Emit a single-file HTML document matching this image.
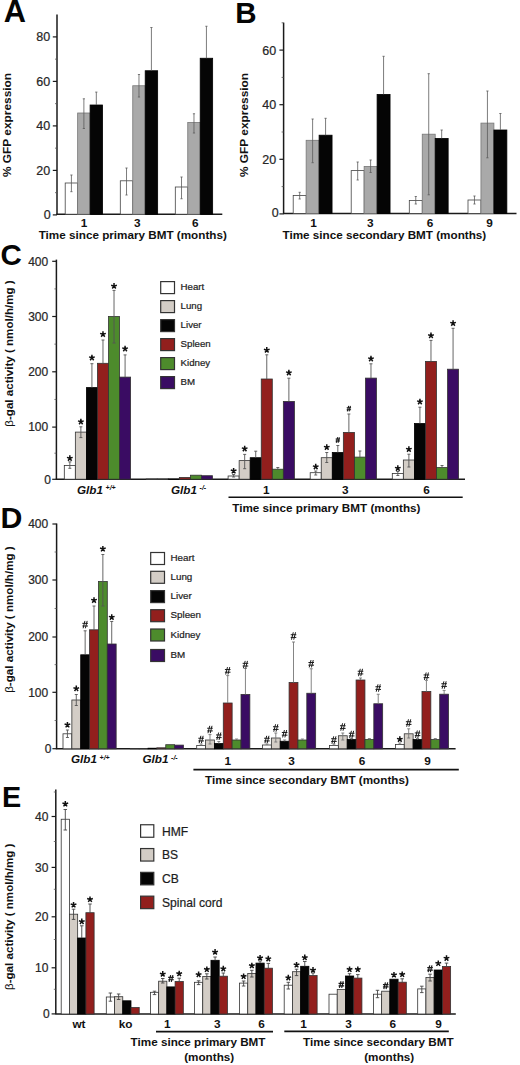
<!DOCTYPE html>
<html><head><meta charset="utf-8"><style>
html,body{margin:0;padding:0;background:#fff;overflow:hidden;}
svg{display:block;font-family:"Liberation Sans", sans-serif;}
</style></head><body>
<svg width="520" height="1065" viewBox="0 0 520 1065" font-family='"Liberation Sans", sans-serif'>
<rect width="520" height="1065" fill="#fff"/>
<text x="3.8" y="21.8" font-size="30.8" font-weight="bold" font-style="normal" text-anchor="start" fill="#050505">A</text>
<line x1="57" y1="14.5" x2="57" y2="214.9" stroke="#1a1a1a" stroke-width="1.5"/>
<line x1="52.8" y1="214.9" x2="57" y2="214.9" stroke="#1a1a1a" stroke-width="1.2"/>
<text x="50.8" y="218.6" font-size="12.5" font-weight="normal" font-style="normal" text-anchor="end" fill="#262626" stroke="#262626" stroke-width="0.22">0</text>
<line x1="52.8" y1="170.4" x2="57" y2="170.4" stroke="#1a1a1a" stroke-width="1.2"/>
<text x="50.2" y="174.9" font-size="12.5" font-weight="normal" font-style="normal" text-anchor="end" fill="#262626" stroke="#262626" stroke-width="0.22">20</text>
<line x1="52.8" y1="125.9" x2="57" y2="125.9" stroke="#1a1a1a" stroke-width="1.2"/>
<text x="50.2" y="130.4" font-size="12.5" font-weight="normal" font-style="normal" text-anchor="end" fill="#262626" stroke="#262626" stroke-width="0.22">40</text>
<line x1="52.8" y1="81.4" x2="57" y2="81.4" stroke="#1a1a1a" stroke-width="1.2"/>
<text x="50.2" y="85.9" font-size="12.5" font-weight="normal" font-style="normal" text-anchor="end" fill="#262626" stroke="#262626" stroke-width="0.22">60</text>
<line x1="52.8" y1="36.9" x2="57" y2="36.9" stroke="#1a1a1a" stroke-width="1.2"/>
<text x="50.2" y="41.4" font-size="12.5" font-weight="normal" font-style="normal" text-anchor="end" fill="#262626" stroke="#262626" stroke-width="0.22">80</text>
<line x1="55" y1="192.65" x2="57" y2="192.65" stroke="#555" stroke-width="0.8"/>
<line x1="55" y1="148.15" x2="57" y2="148.15" stroke="#555" stroke-width="0.8"/>
<line x1="55" y1="103.65" x2="57" y2="103.65" stroke="#555" stroke-width="0.8"/>
<line x1="55" y1="59.15" x2="57" y2="59.15" stroke="#555" stroke-width="0.8"/>
<line x1="56.4" y1="214.2" x2="222.3" y2="214.2" stroke="#1a1a1a" stroke-width="1.5"/>
<text x="0" y="0" font-size="11.9" font-weight="bold" text-anchor="middle" fill="#111" transform="translate(11.35 125) rotate(-90) scale(1 0.9)">% GFP expression</text>
<rect x="65.20" y="183.00" width="12.45" height="31.20" fill="#ffffff" stroke="#444" stroke-width="0.8"/>
<line x1="71.42" y1="175" x2="71.42" y2="191.7" stroke="#5a5a5a" stroke-width="0.8"/>
<line x1="70.33" y1="175" x2="72.52" y2="175" stroke="#5a5a5a" stroke-width="0.8"/>
<line x1="70.33" y1="191.7" x2="72.52" y2="191.7" stroke="#5a5a5a" stroke-width="0.8"/>
<rect x="77.65" y="113.00" width="12.45" height="101.20" fill="#a9a9a9" stroke="#777" stroke-width="0.8"/>
<line x1="83.88" y1="98.8" x2="83.88" y2="128.5" stroke="#5a5a5a" stroke-width="0.8"/>
<line x1="82.78" y1="98.8" x2="84.97" y2="98.8" stroke="#5a5a5a" stroke-width="0.8"/>
<line x1="82.78" y1="128.5" x2="84.97" y2="128.5" stroke="#5a5a5a" stroke-width="0.8"/>
<rect x="90.10" y="105.00" width="12.45" height="109.20" fill="#050505" stroke="#000" stroke-width="0.8"/>
<line x1="96.32" y1="92.1" x2="96.32" y2="105" stroke="#5a5a5a" stroke-width="0.8"/>
<line x1="95.22" y1="92.1" x2="97.42" y2="92.1" stroke="#5a5a5a" stroke-width="0.8"/>
<rect x="120.30" y="180.80" width="12.45" height="33.40" fill="#ffffff" stroke="#444" stroke-width="0.8"/>
<line x1="126.52" y1="168" x2="126.52" y2="195" stroke="#5a5a5a" stroke-width="0.8"/>
<line x1="125.42" y1="168" x2="127.62" y2="168" stroke="#5a5a5a" stroke-width="0.8"/>
<line x1="125.42" y1="195" x2="127.62" y2="195" stroke="#5a5a5a" stroke-width="0.8"/>
<rect x="132.75" y="85.75" width="12.45" height="128.45" fill="#a9a9a9" stroke="#777" stroke-width="0.8"/>
<line x1="138.97" y1="74.5" x2="138.97" y2="97" stroke="#5a5a5a" stroke-width="0.8"/>
<line x1="137.88" y1="74.5" x2="140.07" y2="74.5" stroke="#5a5a5a" stroke-width="0.8"/>
<line x1="137.88" y1="97" x2="140.07" y2="97" stroke="#5a5a5a" stroke-width="0.8"/>
<rect x="145.20" y="70.75" width="12.45" height="143.45" fill="#050505" stroke="#000" stroke-width="0.8"/>
<line x1="151.42" y1="27.5" x2="151.42" y2="70.75" stroke="#5a5a5a" stroke-width="0.8"/>
<line x1="150.32" y1="27.5" x2="152.52" y2="27.5" stroke="#5a5a5a" stroke-width="0.8"/>
<rect x="175.30" y="187.00" width="12.45" height="27.20" fill="#ffffff" stroke="#444" stroke-width="0.8"/>
<line x1="181.53" y1="177" x2="181.53" y2="198.75" stroke="#5a5a5a" stroke-width="0.8"/>
<line x1="180.43" y1="177" x2="182.62" y2="177" stroke="#5a5a5a" stroke-width="0.8"/>
<line x1="180.43" y1="198.75" x2="182.62" y2="198.75" stroke="#5a5a5a" stroke-width="0.8"/>
<rect x="187.75" y="122.50" width="12.45" height="91.70" fill="#a9a9a9" stroke="#777" stroke-width="0.8"/>
<line x1="193.97" y1="113.75" x2="193.97" y2="133" stroke="#5a5a5a" stroke-width="0.8"/>
<line x1="192.88" y1="113.75" x2="195.07" y2="113.75" stroke="#5a5a5a" stroke-width="0.8"/>
<line x1="192.88" y1="133" x2="195.07" y2="133" stroke="#5a5a5a" stroke-width="0.8"/>
<rect x="200.20" y="58.25" width="12.45" height="155.95" fill="#050505" stroke="#000" stroke-width="0.8"/>
<line x1="206.43" y1="26.25" x2="206.43" y2="58.25" stroke="#5a5a5a" stroke-width="0.8"/>
<line x1="205.33" y1="26.25" x2="207.53" y2="26.25" stroke="#5a5a5a" stroke-width="0.8"/>
<text x="84" y="227.1" font-size="11.8" font-weight="bold" font-style="normal" text-anchor="middle" fill="#111">1</text>
<text x="137.3" y="227.1" font-size="11.8" font-weight="bold" font-style="normal" text-anchor="middle" fill="#111">3</text>
<text x="195.3" y="227.1" font-size="11.8" font-weight="bold" font-style="normal" text-anchor="middle" fill="#111">6</text>
<text x="38.7" y="238.7" font-size="11.7" font-weight="bold" font-style="normal" text-anchor="start" fill="#111">Time since primary BMT (months)</text>
<text x="235.2" y="22.6" font-size="29.5" font-weight="bold" font-style="normal" text-anchor="start" fill="#050505">B</text>
<line x1="283.6" y1="22.6" x2="283.6" y2="213.9" stroke="#1a1a1a" stroke-width="1.5"/>
<line x1="279.4" y1="213.9" x2="283.6" y2="213.9" stroke="#1a1a1a" stroke-width="1.2"/>
<text x="278.8" y="217.1" font-size="12.5" font-weight="normal" font-style="normal" text-anchor="end" fill="#262626" stroke="#262626" stroke-width="0.22">0</text>
<line x1="279.4" y1="159.3" x2="283.6" y2="159.3" stroke="#1a1a1a" stroke-width="1.2"/>
<text x="276.2" y="163.8" font-size="12.5" font-weight="normal" font-style="normal" text-anchor="end" fill="#262626" stroke="#262626" stroke-width="0.22">20</text>
<line x1="279.4" y1="104.7" x2="283.6" y2="104.7" stroke="#1a1a1a" stroke-width="1.2"/>
<text x="276.2" y="109.2" font-size="12.5" font-weight="normal" font-style="normal" text-anchor="end" fill="#262626" stroke="#262626" stroke-width="0.22">40</text>
<line x1="279.4" y1="50.1" x2="283.6" y2="50.1" stroke="#1a1a1a" stroke-width="1.2"/>
<text x="276.2" y="54.6" font-size="12.5" font-weight="normal" font-style="normal" text-anchor="end" fill="#262626" stroke="#262626" stroke-width="0.22">60</text>
<line x1="281.6" y1="186.6" x2="283.6" y2="186.6" stroke="#555" stroke-width="0.8"/>
<line x1="281.6" y1="132" x2="283.6" y2="132" stroke="#555" stroke-width="0.8"/>
<line x1="281.6" y1="77.4" x2="283.6" y2="77.4" stroke="#555" stroke-width="0.8"/>
<line x1="281.6" y1="22.8" x2="283.6" y2="22.8" stroke="#555" stroke-width="0.8"/>
<line x1="283" y1="213.4" x2="516.5" y2="213.4" stroke="#1a1a1a" stroke-width="1.5"/>
<text x="0" y="0" font-size="11.9" font-weight="bold" text-anchor="middle" fill="#111" transform="translate(248.3 125) rotate(-90) scale(1 0.9)">% GFP expression</text>
<rect x="293.20" y="195.50" width="12.95" height="17.90" fill="#ffffff" stroke="#444" stroke-width="0.8"/>
<line x1="299.68" y1="192.3" x2="299.68" y2="199" stroke="#5a5a5a" stroke-width="0.8"/>
<line x1="298.57" y1="192.3" x2="300.78" y2="192.3" stroke="#5a5a5a" stroke-width="0.8"/>
<line x1="298.57" y1="199" x2="300.78" y2="199" stroke="#5a5a5a" stroke-width="0.8"/>
<rect x="306.15" y="140.30" width="12.95" height="73.10" fill="#a9a9a9" stroke="#777" stroke-width="0.8"/>
<line x1="312.62" y1="119" x2="312.62" y2="162.7" stroke="#5a5a5a" stroke-width="0.8"/>
<line x1="311.52" y1="119" x2="313.73" y2="119" stroke="#5a5a5a" stroke-width="0.8"/>
<line x1="311.52" y1="162.7" x2="313.73" y2="162.7" stroke="#5a5a5a" stroke-width="0.8"/>
<rect x="319.10" y="135.20" width="12.95" height="78.20" fill="#050505" stroke="#000" stroke-width="0.8"/>
<line x1="325.57" y1="118.3" x2="325.57" y2="135.2" stroke="#5a5a5a" stroke-width="0.8"/>
<line x1="324.47" y1="118.3" x2="326.68" y2="118.3" stroke="#5a5a5a" stroke-width="0.8"/>
<rect x="351.20" y="170.60" width="12.95" height="42.80" fill="#ffffff" stroke="#444" stroke-width="0.8"/>
<line x1="357.68" y1="162" x2="357.68" y2="180" stroke="#5a5a5a" stroke-width="0.8"/>
<line x1="356.57" y1="162" x2="358.78" y2="162" stroke="#5a5a5a" stroke-width="0.8"/>
<line x1="356.57" y1="180" x2="358.78" y2="180" stroke="#5a5a5a" stroke-width="0.8"/>
<rect x="364.15" y="166.40" width="12.95" height="47.00" fill="#a9a9a9" stroke="#777" stroke-width="0.8"/>
<line x1="370.62" y1="160" x2="370.62" y2="172.5" stroke="#5a5a5a" stroke-width="0.8"/>
<line x1="369.52" y1="160" x2="371.73" y2="160" stroke="#5a5a5a" stroke-width="0.8"/>
<line x1="369.52" y1="172.5" x2="371.73" y2="172.5" stroke="#5a5a5a" stroke-width="0.8"/>
<rect x="377.10" y="94.40" width="12.95" height="119.00" fill="#050505" stroke="#000" stroke-width="0.8"/>
<line x1="383.57" y1="56.3" x2="383.57" y2="94.4" stroke="#5a5a5a" stroke-width="0.8"/>
<line x1="382.47" y1="56.3" x2="384.68" y2="56.3" stroke="#5a5a5a" stroke-width="0.8"/>
<rect x="409.30" y="200.40" width="12.95" height="13.00" fill="#ffffff" stroke="#444" stroke-width="0.8"/>
<line x1="415.78" y1="196.5" x2="415.78" y2="204" stroke="#5a5a5a" stroke-width="0.8"/>
<line x1="414.68" y1="196.5" x2="416.88" y2="196.5" stroke="#5a5a5a" stroke-width="0.8"/>
<line x1="414.68" y1="204" x2="416.88" y2="204" stroke="#5a5a5a" stroke-width="0.8"/>
<rect x="422.25" y="134.20" width="12.95" height="79.20" fill="#a9a9a9" stroke="#777" stroke-width="0.8"/>
<line x1="428.73" y1="73.7" x2="428.73" y2="194.8" stroke="#5a5a5a" stroke-width="0.8"/>
<line x1="427.62" y1="73.7" x2="429.83" y2="73.7" stroke="#5a5a5a" stroke-width="0.8"/>
<line x1="427.62" y1="194.8" x2="429.83" y2="194.8" stroke="#5a5a5a" stroke-width="0.8"/>
<rect x="435.20" y="138.40" width="12.95" height="75.00" fill="#050505" stroke="#000" stroke-width="0.8"/>
<line x1="441.68" y1="130" x2="441.68" y2="138.4" stroke="#5a5a5a" stroke-width="0.8"/>
<line x1="440.57" y1="130" x2="442.78" y2="130" stroke="#5a5a5a" stroke-width="0.8"/>
<rect x="468.00" y="200.00" width="12.95" height="13.40" fill="#ffffff" stroke="#444" stroke-width="0.8"/>
<line x1="474.48" y1="196" x2="474.48" y2="204" stroke="#5a5a5a" stroke-width="0.8"/>
<line x1="473.38" y1="196" x2="475.58" y2="196" stroke="#5a5a5a" stroke-width="0.8"/>
<line x1="473.38" y1="204" x2="475.58" y2="204" stroke="#5a5a5a" stroke-width="0.8"/>
<rect x="480.95" y="123.10" width="12.95" height="90.30" fill="#a9a9a9" stroke="#777" stroke-width="0.8"/>
<line x1="487.43" y1="91" x2="487.43" y2="157.8" stroke="#5a5a5a" stroke-width="0.8"/>
<line x1="486.32" y1="91" x2="488.53" y2="91" stroke="#5a5a5a" stroke-width="0.8"/>
<line x1="486.32" y1="157.8" x2="488.53" y2="157.8" stroke="#5a5a5a" stroke-width="0.8"/>
<rect x="493.90" y="130.00" width="12.95" height="83.40" fill="#050505" stroke="#000" stroke-width="0.8"/>
<line x1="500.38" y1="113.5" x2="500.38" y2="130" stroke="#5a5a5a" stroke-width="0.8"/>
<line x1="499.27" y1="113.5" x2="501.48" y2="113.5" stroke="#5a5a5a" stroke-width="0.8"/>
<text x="313.5" y="227.1" font-size="11.8" font-weight="bold" font-style="normal" text-anchor="middle" fill="#111">1</text>
<text x="370.2" y="227.1" font-size="11.8" font-weight="bold" font-style="normal" text-anchor="middle" fill="#111">3</text>
<text x="430" y="227.1" font-size="11.8" font-weight="bold" font-style="normal" text-anchor="middle" fill="#111">6</text>
<text x="489.5" y="227.1" font-size="11.8" font-weight="bold" font-style="normal" text-anchor="middle" fill="#111">9</text>
<text x="282.5" y="238.7" font-size="11.7" font-weight="bold" font-style="normal" text-anchor="start" fill="#111">Time since secondary BMT (months)</text>
<text x="0.6" y="265" font-size="29.5" font-weight="bold" font-style="normal" text-anchor="start" fill="#050505">C</text>
<line x1="56.4" y1="259.6" x2="56.4" y2="479.3" stroke="#1a1a1a" stroke-width="1.5"/>
<line x1="52.2" y1="479.3" x2="56.4" y2="479.3" stroke="#1a1a1a" stroke-width="1.2"/>
<text x="50.9" y="483.62" font-size="12" font-weight="normal" font-style="normal" text-anchor="end" fill="#262626" stroke="#262626" stroke-width="0.22">0</text>
<line x1="52.2" y1="427.1" x2="56.4" y2="427.1" stroke="#1a1a1a" stroke-width="1.2"/>
<text x="48.2" y="431.42" font-size="12" font-weight="normal" font-style="normal" text-anchor="end" fill="#262626" stroke="#262626" stroke-width="0.22">100</text>
<line x1="52.2" y1="371.8" x2="56.4" y2="371.8" stroke="#1a1a1a" stroke-width="1.2"/>
<text x="48.2" y="376.12" font-size="12" font-weight="normal" font-style="normal" text-anchor="end" fill="#262626" stroke="#262626" stroke-width="0.22">200</text>
<line x1="52.2" y1="316.5" x2="56.4" y2="316.5" stroke="#1a1a1a" stroke-width="1.2"/>
<text x="48.2" y="320.82" font-size="12" font-weight="normal" font-style="normal" text-anchor="end" fill="#262626" stroke="#262626" stroke-width="0.22">300</text>
<line x1="52.2" y1="261.3" x2="56.4" y2="261.3" stroke="#1a1a1a" stroke-width="1.2"/>
<text x="48.2" y="265.62" font-size="12" font-weight="normal" font-style="normal" text-anchor="end" fill="#262626" stroke="#262626" stroke-width="0.22">400</text>
<line x1="54.4" y1="453.2" x2="56.4" y2="453.2" stroke="#555" stroke-width="0.8"/>
<line x1="54.4" y1="399.45" x2="56.4" y2="399.45" stroke="#555" stroke-width="0.8"/>
<line x1="54.4" y1="344.15" x2="56.4" y2="344.15" stroke="#555" stroke-width="0.8"/>
<line x1="54.4" y1="288.9" x2="56.4" y2="288.9" stroke="#555" stroke-width="0.8"/>
<line x1="55.8" y1="479.2" x2="465" y2="479.2" stroke="#1a1a1a" stroke-width="1.5"/>
<text x="13.1" y="353.5" font-size="11.6" text-anchor="middle" fill="#111" transform="rotate(-90 13.1 353.5)"><tspan font-weight="normal">&#946;</tspan><tspan font-weight="bold">-gal activity ( nmol/h/mg )</tspan></text>
<rect x="160.70" y="281.60" width="13.80" height="12.00" fill="#ffffff" stroke="#333" stroke-width="1.2"/>
<text x="180.6" y="290.2" font-size="9.7" font-weight="normal" font-style="normal" text-anchor="start" fill="#1a1a1a" stroke="#262626" stroke-width="0.22">Heart</text>
<rect x="160.70" y="300.60" width="13.80" height="12.00" fill="#d3cdc6" stroke="#333" stroke-width="1.2"/>
<text x="180.6" y="309.2" font-size="9.7" font-weight="normal" font-style="normal" text-anchor="start" fill="#1a1a1a" stroke="#262626" stroke-width="0.22">Lung</text>
<rect x="160.70" y="319.60" width="13.80" height="12.00" fill="#050505" stroke="#333" stroke-width="1.2"/>
<text x="180.6" y="328.2" font-size="9.7" font-weight="normal" font-style="normal" text-anchor="start" fill="#1a1a1a" stroke="#262626" stroke-width="0.22">Liver</text>
<rect x="160.70" y="338.60" width="13.80" height="12.00" fill="#921f1d" stroke="#333" stroke-width="1.2"/>
<text x="180.6" y="347.2" font-size="9.7" font-weight="normal" font-style="normal" text-anchor="start" fill="#1a1a1a" stroke="#262626" stroke-width="0.22">Spleen</text>
<rect x="160.70" y="357.60" width="13.80" height="12.00" fill="#4d8b2c" stroke="#333" stroke-width="1.2"/>
<text x="180.6" y="366.2" font-size="9.7" font-weight="normal" font-style="normal" text-anchor="start" fill="#1a1a1a" stroke="#262626" stroke-width="0.22">Kidney</text>
<rect x="160.70" y="376.60" width="13.80" height="12.00" fill="#3a0c63" stroke="#333" stroke-width="1.2"/>
<text x="180.6" y="385.2" font-size="9.7" font-weight="normal" font-style="normal" text-anchor="start" fill="#1a1a1a" stroke="#262626" stroke-width="0.22">BM</text>
<rect x="64.30" y="465.40" width="11.05" height="13.80" fill="#ffffff" stroke="#333" stroke-width="0.8"/>
<line x1="69.83" y1="461.9" x2="69.83" y2="468.3" stroke="#555" stroke-width="0.9"/>
<line x1="68.33" y1="461.9" x2="71.33" y2="461.9" stroke="#555" stroke-width="0.9"/>
<line x1="68.33" y1="468.3" x2="71.33" y2="468.3" stroke="#555" stroke-width="0.9"/>
<path d="M69.83 458.3L69.83 455.3M69.83 458.3L72.68 457.37M69.83 458.3L71.59 460.73M69.83 458.3L68.06 460.73M69.83 458.3L66.97 457.37" stroke="#111" stroke-width="1.5" fill="none"/>
<rect x="75.35" y="432.10" width="11.05" height="47.10" fill="#d3cdc6" stroke="#333" stroke-width="0.8"/>
<line x1="80.88" y1="426.8" x2="80.88" y2="437.6" stroke="#555" stroke-width="0.9"/>
<line x1="79.38" y1="426.8" x2="82.38" y2="426.8" stroke="#555" stroke-width="0.9"/>
<line x1="79.38" y1="437.6" x2="82.38" y2="437.6" stroke="#555" stroke-width="0.9"/>
<path d="M80.88 421.8L80.88 418.8M80.88 421.8L83.73 420.87M80.88 421.8L82.64 424.23M80.88 421.8L79.11 424.23M80.88 421.8L78.02 420.87" stroke="#111" stroke-width="1.5" fill="none"/>
<rect x="86.40" y="387.60" width="11.05" height="91.60" fill="#050505" stroke="#000" stroke-width="0.8"/>
<line x1="91.93" y1="363.7" x2="91.93" y2="387.6" stroke="#555" stroke-width="0.9"/>
<line x1="90.43" y1="363.7" x2="93.43" y2="363.7" stroke="#555" stroke-width="0.9"/>
<path d="M91.93 357.8L91.93 354.8M91.93 357.8L94.78 356.87M91.93 357.8L93.69 360.23M91.93 357.8L90.16 360.23M91.93 357.8L89.07 356.87" stroke="#111" stroke-width="1.5" fill="none"/>
<rect x="97.45" y="363.30" width="11.05" height="115.90" fill="#921f1d" stroke="#333" stroke-width="0.8"/>
<line x1="102.98" y1="340" x2="102.98" y2="363.3" stroke="#555" stroke-width="0.9"/>
<line x1="101.48" y1="340" x2="104.48" y2="340" stroke="#555" stroke-width="0.9"/>
<path d="M102.98 334.3L102.98 331.3M102.98 334.3L105.83 333.37M102.98 334.3L104.74 336.73M102.98 334.3L101.21 336.73M102.98 334.3L100.12 333.37" stroke="#111" stroke-width="1.5" fill="none"/>
<rect x="108.50" y="316.50" width="11.05" height="162.70" fill="#4d8b2c" stroke="#333" stroke-width="0.8"/>
<line x1="114.03" y1="290.4" x2="114.03" y2="343" stroke="#555" stroke-width="0.9"/>
<line x1="112.53" y1="290.4" x2="115.53" y2="290.4" stroke="#555" stroke-width="0.9"/>
<line x1="112.53" y1="343" x2="115.53" y2="343" stroke="#555" stroke-width="0.9"/>
<path d="M114.03 286.1L114.03 283.1M114.03 286.1L116.88 285.17M114.03 286.1L115.79 288.53M114.03 286.1L112.26 288.53M114.03 286.1L111.17 285.17" stroke="#111" stroke-width="1.5" fill="none"/>
<rect x="119.55" y="377.10" width="11.05" height="102.10" fill="#3a0c63" stroke="#333" stroke-width="0.8"/>
<line x1="125.08" y1="354.9" x2="125.08" y2="377.1" stroke="#555" stroke-width="0.9"/>
<line x1="123.58" y1="354.9" x2="126.58" y2="354.9" stroke="#555" stroke-width="0.9"/>
<path d="M125.08 348.8L125.08 345.8M125.08 348.8L127.93 347.87M125.08 348.8L126.84 351.23M125.08 348.8L123.31 351.23M125.08 348.8L122.22 347.87" stroke="#111" stroke-width="1.5" fill="none"/>
<rect x="146.20" y="479.00" width="11.05" height="0.20" fill="#ffffff" stroke="#333" stroke-width="0.8"/>
<rect x="157.25" y="479.00" width="11.05" height="0.20" fill="#d3cdc6" stroke="#333" stroke-width="0.8"/>
<rect x="168.30" y="479.00" width="11.05" height="0.20" fill="#050505" stroke="#000" stroke-width="0.8"/>
<rect x="179.35" y="477.40" width="11.05" height="1.80" fill="#921f1d" stroke="#333" stroke-width="0.8"/>
<rect x="190.40" y="475.20" width="11.05" height="4.00" fill="#4d8b2c" stroke="#333" stroke-width="0.8"/>
<rect x="201.45" y="475.70" width="11.05" height="3.50" fill="#3a0c63" stroke="#333" stroke-width="0.8"/>
<rect x="228.10" y="476.00" width="11.05" height="3.20" fill="#ffffff" stroke="#333" stroke-width="0.8"/>
<line x1="233.62" y1="474.5" x2="233.62" y2="477" stroke="#555" stroke-width="0.9"/>
<line x1="232.12" y1="474.5" x2="235.12" y2="474.5" stroke="#555" stroke-width="0.9"/>
<line x1="232.12" y1="477" x2="235.12" y2="477" stroke="#555" stroke-width="0.9"/>
<path d="M233.62 470.9L233.62 467.9M233.62 470.9L236.48 469.97M233.62 470.9L235.39 473.33M233.62 470.9L231.86 473.33M233.62 470.9L230.77 469.97" stroke="#111" stroke-width="1.5" fill="none"/>
<rect x="239.15" y="460.60" width="11.05" height="18.60" fill="#d3cdc6" stroke="#333" stroke-width="0.8"/>
<line x1="244.68" y1="454.4" x2="244.68" y2="468.7" stroke="#555" stroke-width="0.9"/>
<line x1="243.18" y1="454.4" x2="246.18" y2="454.4" stroke="#555" stroke-width="0.9"/>
<line x1="243.18" y1="468.7" x2="246.18" y2="468.7" stroke="#555" stroke-width="0.9"/>
<path d="M244.68 448.8L244.68 445.8M244.68 448.8L247.53 447.87M244.68 448.8L246.44 451.23M244.68 448.8L242.91 451.23M244.68 448.8L241.82 447.87" stroke="#111" stroke-width="1.5" fill="none"/>
<rect x="250.20" y="457.70" width="11.05" height="21.50" fill="#050505" stroke="#000" stroke-width="0.8"/>
<line x1="255.72" y1="451.2" x2="255.72" y2="457.7" stroke="#555" stroke-width="0.9"/>
<line x1="254.22" y1="451.2" x2="257.23" y2="451.2" stroke="#555" stroke-width="0.9"/>
<rect x="261.25" y="379.00" width="11.05" height="100.20" fill="#921f1d" stroke="#333" stroke-width="0.8"/>
<line x1="266.77" y1="354.8" x2="266.77" y2="379" stroke="#555" stroke-width="0.9"/>
<line x1="265.27" y1="354.8" x2="268.27" y2="354.8" stroke="#555" stroke-width="0.9"/>
<path d="M266.77 350.1L266.77 347.1M266.77 350.1L269.63 349.17M266.77 350.1L268.54 352.53M266.77 350.1L265.01 352.53M266.77 350.1L263.92 349.17" stroke="#111" stroke-width="1.5" fill="none"/>
<rect x="272.30" y="469.20" width="11.05" height="10.00" fill="#4d8b2c" stroke="#333" stroke-width="0.8"/>
<line x1="277.82" y1="467.5" x2="277.82" y2="469.2" stroke="#555" stroke-width="0.9"/>
<line x1="276.32" y1="467.5" x2="279.32" y2="467.5" stroke="#555" stroke-width="0.9"/>
<rect x="283.35" y="401.40" width="11.05" height="77.80" fill="#3a0c63" stroke="#333" stroke-width="0.8"/>
<line x1="288.88" y1="378.2" x2="288.88" y2="401.4" stroke="#555" stroke-width="0.9"/>
<line x1="287.38" y1="378.2" x2="290.38" y2="378.2" stroke="#555" stroke-width="0.9"/>
<path d="M288.88 372.8L288.88 369.8M288.88 372.8L291.73 371.87M288.88 372.8L290.64 375.23M288.88 372.8L287.11 375.23M288.88 372.8L286.02 371.87" stroke="#111" stroke-width="1.5" fill="none"/>
<rect x="310.20" y="472.70" width="11.05" height="6.50" fill="#ffffff" stroke="#333" stroke-width="0.8"/>
<line x1="315.72" y1="471" x2="315.72" y2="475" stroke="#555" stroke-width="0.9"/>
<line x1="314.22" y1="471" x2="317.22" y2="471" stroke="#555" stroke-width="0.9"/>
<line x1="314.22" y1="475" x2="317.22" y2="475" stroke="#555" stroke-width="0.9"/>
<path d="M315.72 466.8L315.72 463.8M315.72 466.8L318.58 465.87M315.72 466.8L317.49 469.23M315.72 466.8L313.96 469.23M315.72 466.8L312.87 465.87" stroke="#111" stroke-width="1.5" fill="none"/>
<rect x="321.25" y="457.70" width="11.05" height="21.50" fill="#d3cdc6" stroke="#333" stroke-width="0.8"/>
<line x1="326.77" y1="452.5" x2="326.77" y2="462.5" stroke="#555" stroke-width="0.9"/>
<line x1="325.27" y1="452.5" x2="328.27" y2="452.5" stroke="#555" stroke-width="0.9"/>
<line x1="325.27" y1="462.5" x2="328.27" y2="462.5" stroke="#555" stroke-width="0.9"/>
<path d="M326.77 447.3L326.77 444.3M326.77 447.3L329.63 446.37M326.77 447.3L328.54 449.73M326.77 447.3L325.01 449.73M326.77 447.3L323.92 446.37" stroke="#111" stroke-width="1.5" fill="none"/>
<rect x="332.30" y="452.50" width="11.05" height="26.70" fill="#050505" stroke="#000" stroke-width="0.8"/>
<line x1="337.82" y1="445.5" x2="337.82" y2="452.5" stroke="#555" stroke-width="0.9"/>
<line x1="336.32" y1="445.5" x2="339.32" y2="445.5" stroke="#555" stroke-width="0.9"/>
<path d="M337.61 437.25L336.28 442.75M339.37 437.25L338.04 442.75M335.62 439.06L340.02 439.06M335.62 441.05L340.02 441.05" stroke="#1a1a1a" stroke-width="1.1" fill="none"/>
<rect x="343.35" y="432.40" width="11.05" height="46.80" fill="#921f1d" stroke="#333" stroke-width="0.8"/>
<line x1="348.88" y1="414" x2="348.88" y2="432.4" stroke="#555" stroke-width="0.9"/>
<line x1="347.38" y1="414" x2="350.38" y2="414" stroke="#555" stroke-width="0.9"/>
<path d="M348.66 405.95L347.33 411.45M350.42 405.95L349.09 411.45M346.68 407.76L351.07 407.76M346.68 409.75L351.07 409.75" stroke="#1a1a1a" stroke-width="1.1" fill="none"/>
<rect x="354.40" y="457.10" width="11.05" height="22.10" fill="#4d8b2c" stroke="#333" stroke-width="0.8"/>
<line x1="359.92" y1="451" x2="359.92" y2="457.1" stroke="#555" stroke-width="0.9"/>
<line x1="358.42" y1="451" x2="361.42" y2="451" stroke="#555" stroke-width="0.9"/>
<rect x="365.45" y="378.10" width="11.05" height="101.10" fill="#3a0c63" stroke="#333" stroke-width="0.8"/>
<line x1="370.97" y1="363.8" x2="370.97" y2="378.1" stroke="#555" stroke-width="0.9"/>
<line x1="369.47" y1="363.8" x2="372.47" y2="363.8" stroke="#555" stroke-width="0.9"/>
<path d="M370.97 358.8L370.97 355.8M370.97 358.8L373.83 357.87M370.97 358.8L372.74 361.23M370.97 358.8L369.21 361.23M370.97 358.8L368.12 357.87" stroke="#111" stroke-width="1.5" fill="none"/>
<rect x="392.30" y="473.40" width="11.05" height="5.80" fill="#ffffff" stroke="#333" stroke-width="0.8"/>
<line x1="397.82" y1="471.5" x2="397.82" y2="475.5" stroke="#555" stroke-width="0.9"/>
<line x1="396.32" y1="471.5" x2="399.32" y2="471.5" stroke="#555" stroke-width="0.9"/>
<line x1="396.32" y1="475.5" x2="399.32" y2="475.5" stroke="#555" stroke-width="0.9"/>
<path d="M397.82 468.3L397.82 465.3M397.82 468.3L400.68 467.37M397.82 468.3L399.59 470.73M397.82 468.3L396.06 470.73M397.82 468.3L394.97 467.37" stroke="#111" stroke-width="1.5" fill="none"/>
<rect x="403.35" y="460.00" width="11.05" height="19.20" fill="#d3cdc6" stroke="#333" stroke-width="0.8"/>
<line x1="408.88" y1="454.2" x2="408.88" y2="467" stroke="#555" stroke-width="0.9"/>
<line x1="407.38" y1="454.2" x2="410.38" y2="454.2" stroke="#555" stroke-width="0.9"/>
<line x1="407.38" y1="467" x2="410.38" y2="467" stroke="#555" stroke-width="0.9"/>
<path d="M408.88 449.3L408.88 446.3M408.88 449.3L411.73 448.37M408.88 449.3L410.64 451.73M408.88 449.3L407.11 451.73M408.88 449.3L406.02 448.37" stroke="#111" stroke-width="1.5" fill="none"/>
<rect x="414.40" y="423.50" width="11.05" height="55.70" fill="#050505" stroke="#000" stroke-width="0.8"/>
<line x1="419.93" y1="407.2" x2="419.93" y2="423.5" stroke="#555" stroke-width="0.9"/>
<line x1="418.43" y1="407.2" x2="421.43" y2="407.2" stroke="#555" stroke-width="0.9"/>
<path d="M419.93 401.8L419.93 398.8M419.93 401.8L422.78 400.87M419.93 401.8L421.69 404.23M419.93 401.8L418.16 404.23M419.93 401.8L417.07 400.87" stroke="#111" stroke-width="1.5" fill="none"/>
<rect x="425.45" y="361.40" width="11.05" height="117.80" fill="#921f1d" stroke="#333" stroke-width="0.8"/>
<line x1="430.98" y1="340.4" x2="430.98" y2="361.4" stroke="#555" stroke-width="0.9"/>
<line x1="429.48" y1="340.4" x2="432.48" y2="340.4" stroke="#555" stroke-width="0.9"/>
<path d="M430.98 335.6L430.98 332.6M430.98 335.6L433.83 334.67M430.98 335.6L432.74 338.03M430.98 335.6L429.21 338.03M430.98 335.6L428.12 334.67" stroke="#111" stroke-width="1.5" fill="none"/>
<rect x="436.50" y="467.60" width="11.05" height="11.60" fill="#4d8b2c" stroke="#333" stroke-width="0.8"/>
<line x1="442.02" y1="465.5" x2="442.02" y2="467.6" stroke="#555" stroke-width="0.9"/>
<line x1="440.52" y1="465.5" x2="443.52" y2="465.5" stroke="#555" stroke-width="0.9"/>
<rect x="447.55" y="369.20" width="11.05" height="110.00" fill="#3a0c63" stroke="#333" stroke-width="0.8"/>
<line x1="453.07" y1="328.3" x2="453.07" y2="369.2" stroke="#555" stroke-width="0.9"/>
<line x1="451.57" y1="328.3" x2="454.57" y2="328.3" stroke="#555" stroke-width="0.9"/>
<path d="M453.07 323.3L453.07 320.3M453.07 323.3L455.93 322.37M453.07 323.3L454.84 325.73M453.07 323.3L451.31 325.73M453.07 323.3L450.22 322.37" stroke="#111" stroke-width="1.5" fill="none"/>
<text x="77" y="493.6" font-size="11.7" font-weight="bold" font-style="italic" fill="#111">Glb1<tspan font-size="7" dy="-3.6" dx="2.6">+/+</tspan></text>
<text x="171" y="493.6" font-size="11.7" font-weight="bold" font-style="italic" fill="#111">Glb1<tspan font-size="7" dy="-3.6" dx="2.6">-/-</tspan></text>
<text x="266.3" y="493.6" font-size="11.8" font-weight="bold" font-style="normal" text-anchor="middle" fill="#111">1</text>
<text x="345.3" y="493.6" font-size="11.8" font-weight="bold" font-style="normal" text-anchor="middle" fill="#111">3</text>
<text x="426.5" y="493.6" font-size="11.8" font-weight="bold" font-style="normal" text-anchor="middle" fill="#111">6</text>
<line x1="228.5" y1="497.3" x2="462.7" y2="497.3" stroke="#111" stroke-width="1.6"/>
<text x="232.3" y="511.7" font-size="11.7" font-weight="bold" font-style="normal" text-anchor="start" fill="#111">Time since primary BMT (months)</text>
<text x="0.5" y="527.7" font-size="30.3" font-weight="bold" font-style="normal" text-anchor="start" fill="#050505">D</text>
<line x1="56.6" y1="523.5" x2="56.6" y2="748.7" stroke="#1a1a1a" stroke-width="1.5"/>
<line x1="52.4" y1="748.7" x2="56.6" y2="748.7" stroke="#1a1a1a" stroke-width="1.2"/>
<text x="51.5" y="753.02" font-size="12" font-weight="normal" font-style="normal" text-anchor="end" fill="#262626" stroke="#262626" stroke-width="0.22">0</text>
<line x1="52.4" y1="692.3" x2="56.6" y2="692.3" stroke="#1a1a1a" stroke-width="1.2"/>
<text x="48.2" y="696.62" font-size="12" font-weight="normal" font-style="normal" text-anchor="end" fill="#262626" stroke="#262626" stroke-width="0.22">100</text>
<line x1="52.4" y1="637" x2="56.6" y2="637" stroke="#1a1a1a" stroke-width="1.2"/>
<text x="48.2" y="641.32" font-size="12" font-weight="normal" font-style="normal" text-anchor="end" fill="#262626" stroke="#262626" stroke-width="0.22">200</text>
<line x1="52.4" y1="580" x2="56.6" y2="580" stroke="#1a1a1a" stroke-width="1.2"/>
<text x="48.2" y="584.32" font-size="12" font-weight="normal" font-style="normal" text-anchor="end" fill="#262626" stroke="#262626" stroke-width="0.22">300</text>
<line x1="52.4" y1="524" x2="56.6" y2="524" stroke="#1a1a1a" stroke-width="1.2"/>
<text x="48.2" y="528.32" font-size="12" font-weight="normal" font-style="normal" text-anchor="end" fill="#262626" stroke="#262626" stroke-width="0.22">400</text>
<line x1="54.6" y1="720.5" x2="56.6" y2="720.5" stroke="#555" stroke-width="0.8"/>
<line x1="54.6" y1="664.65" x2="56.6" y2="664.65" stroke="#555" stroke-width="0.8"/>
<line x1="54.6" y1="608.5" x2="56.6" y2="608.5" stroke="#555" stroke-width="0.8"/>
<line x1="54.6" y1="552" x2="56.6" y2="552" stroke="#555" stroke-width="0.8"/>
<line x1="55.8" y1="748.8" x2="455.6" y2="748.8" stroke="#1a1a1a" stroke-width="1.4"/>
<text x="13.1" y="619.6" font-size="11.6" text-anchor="middle" fill="#111" transform="rotate(-90 13.1 619.6)"><tspan font-weight="normal">&#946;</tspan><tspan font-weight="bold">-gal activity ( nmol/h/mg )</tspan></text>
<rect x="150.70" y="552.50" width="13.80" height="12.00" fill="#ffffff" stroke="#333" stroke-width="1.2"/>
<text x="170.5" y="561.2" font-size="9.8" font-weight="normal" font-style="normal" text-anchor="start" fill="#1a1a1a" stroke="#262626" stroke-width="0.22">Heart</text>
<rect x="150.70" y="571.30" width="13.80" height="12.00" fill="#d3cdc6" stroke="#333" stroke-width="1.2"/>
<text x="170.5" y="580" font-size="9.8" font-weight="normal" font-style="normal" text-anchor="start" fill="#1a1a1a" stroke="#262626" stroke-width="0.22">Lung</text>
<rect x="150.70" y="590.60" width="13.80" height="12.00" fill="#050505" stroke="#333" stroke-width="1.2"/>
<text x="170.5" y="599.3" font-size="9.8" font-weight="normal" font-style="normal" text-anchor="start" fill="#1a1a1a" stroke="#262626" stroke-width="0.22">Liver</text>
<rect x="150.70" y="609.70" width="13.80" height="12.00" fill="#921f1d" stroke="#333" stroke-width="1.2"/>
<text x="170.5" y="618.4" font-size="9.8" font-weight="normal" font-style="normal" text-anchor="start" fill="#1a1a1a" stroke="#262626" stroke-width="0.22">Spleen</text>
<rect x="150.70" y="629.00" width="13.80" height="12.00" fill="#4d8b2c" stroke="#333" stroke-width="1.2"/>
<text x="170.5" y="637.7" font-size="9.8" font-weight="normal" font-style="normal" text-anchor="start" fill="#1a1a1a" stroke="#262626" stroke-width="0.22">Kidney</text>
<rect x="150.70" y="649.50" width="13.80" height="12.00" fill="#3a0c63" stroke="#333" stroke-width="1.2"/>
<text x="170.5" y="658.2" font-size="9.8" font-weight="normal" font-style="normal" text-anchor="start" fill="#1a1a1a" stroke="#262626" stroke-width="0.22">BM</text>
<rect x="63.00" y="733.80" width="8.86" height="15.00" fill="#ffffff" stroke="#333" stroke-width="0.8"/>
<line x1="67.43" y1="730" x2="67.43" y2="737.5" stroke="#555" stroke-width="0.9"/>
<line x1="65.93" y1="730" x2="68.93" y2="730" stroke="#555" stroke-width="0.9"/>
<line x1="65.93" y1="737.5" x2="68.93" y2="737.5" stroke="#555" stroke-width="0.9"/>
<path d="M67.43 724.9L67.43 721.9M67.43 724.9L70.28 723.97M67.43 724.9L69.19 727.33M67.43 724.9L65.67 727.33M67.43 724.9L64.58 723.97" stroke="#111" stroke-width="1.5" fill="none"/>
<rect x="71.86" y="700.00" width="8.86" height="48.80" fill="#d3cdc6" stroke="#333" stroke-width="0.8"/>
<line x1="76.29" y1="694.5" x2="76.29" y2="705.5" stroke="#555" stroke-width="0.9"/>
<line x1="74.79" y1="694.5" x2="77.79" y2="694.5" stroke="#555" stroke-width="0.9"/>
<line x1="74.79" y1="705.5" x2="77.79" y2="705.5" stroke="#555" stroke-width="0.9"/>
<path d="M76.29 688.6L76.29 685.6M76.29 688.6L79.14 687.67M76.29 688.6L78.05 691.03M76.29 688.6L74.53 691.03M76.29 688.6L73.44 687.67" stroke="#111" stroke-width="1.5" fill="none"/>
<rect x="80.72" y="654.80" width="8.86" height="94.00" fill="#050505" stroke="#000" stroke-width="0.8"/>
<line x1="85.15" y1="630.8" x2="85.15" y2="654.8" stroke="#555" stroke-width="0.9"/>
<line x1="83.65" y1="630.8" x2="86.65" y2="630.8" stroke="#555" stroke-width="0.9"/>
<path d="M84.92 620.9L83.14 628.3M87.16 620.9L85.38 628.3M82.35 623.34L87.95 623.34M82.35 626.01L87.95 626.01" stroke="#1a1a1a" stroke-width="1.0" fill="none"/>
<rect x="89.58" y="629.80" width="8.86" height="119.00" fill="#921f1d" stroke="#333" stroke-width="0.8"/>
<line x1="94.01" y1="606" x2="94.01" y2="629.8" stroke="#555" stroke-width="0.9"/>
<line x1="92.51" y1="606" x2="95.51" y2="606" stroke="#555" stroke-width="0.9"/>
<path d="M94.01 600.3L94.01 597.3M94.01 600.3L96.86 599.37M94.01 600.3L95.77 602.73M94.01 600.3L92.25 602.73M94.01 600.3L91.16 599.37" stroke="#111" stroke-width="1.5" fill="none"/>
<rect x="98.44" y="581.50" width="8.86" height="167.30" fill="#4d8b2c" stroke="#333" stroke-width="0.8"/>
<line x1="102.87" y1="554.5" x2="102.87" y2="606" stroke="#555" stroke-width="0.9"/>
<line x1="101.37" y1="554.5" x2="104.37" y2="554.5" stroke="#555" stroke-width="0.9"/>
<line x1="101.37" y1="606" x2="104.37" y2="606" stroke="#555" stroke-width="0.9"/>
<path d="M102.87 548.9L102.87 545.9M102.87 548.9L105.72 547.97M102.87 548.9L104.63 551.33M102.87 548.9L101.11 551.33M102.87 548.9L100.02 547.97" stroke="#111" stroke-width="1.5" fill="none"/>
<rect x="107.30" y="644.00" width="8.86" height="104.80" fill="#3a0c63" stroke="#333" stroke-width="0.8"/>
<line x1="111.73" y1="621.5" x2="111.73" y2="644" stroke="#555" stroke-width="0.9"/>
<line x1="110.23" y1="621.5" x2="113.23" y2="621.5" stroke="#555" stroke-width="0.9"/>
<path d="M111.73 617.3L111.73 614.3M111.73 617.3L114.58 616.37M111.73 617.3L113.49 619.73M111.73 617.3L109.97 619.73M111.73 617.3L108.88 616.37" stroke="#111" stroke-width="1.5" fill="none"/>
<rect x="130.30" y="748.60" width="8.86" height="0.20" fill="#ffffff" stroke="#333" stroke-width="0.8"/>
<rect x="139.16" y="748.40" width="8.86" height="0.40" fill="#d3cdc6" stroke="#333" stroke-width="0.8"/>
<rect x="148.02" y="748.20" width="8.86" height="0.60" fill="#050505" stroke="#000" stroke-width="0.8"/>
<rect x="156.88" y="747.80" width="8.86" height="1.00" fill="#921f1d" stroke="#333" stroke-width="0.8"/>
<rect x="165.74" y="744.70" width="8.86" height="4.10" fill="#4d8b2c" stroke="#333" stroke-width="0.8"/>
<rect x="174.60" y="745.10" width="8.86" height="3.70" fill="#3a0c63" stroke="#333" stroke-width="0.8"/>
<rect x="196.70" y="745.40" width="8.86" height="3.40" fill="#ffffff" stroke="#333" stroke-width="0.8"/>
<line x1="201.13" y1="744" x2="201.13" y2="745.4" stroke="#777" stroke-width="0.9"/>
<line x1="199.63" y1="744" x2="202.63" y2="744" stroke="#777" stroke-width="0.9"/>
<path d="M200.9 735.8L199.12 743.2M203.14 735.8L201.36 743.2M198.33 738.24L203.93 738.24M198.33 740.91L203.93 740.91" stroke="#1a1a1a" stroke-width="1.0" fill="none"/>
<rect x="205.56" y="740.00" width="8.86" height="8.80" fill="#d3cdc6" stroke="#333" stroke-width="0.8"/>
<line x1="209.99" y1="734.6" x2="209.99" y2="744" stroke="#777" stroke-width="0.9"/>
<line x1="208.49" y1="734.6" x2="211.49" y2="734.6" stroke="#777" stroke-width="0.9"/>
<line x1="208.49" y1="744" x2="211.49" y2="744" stroke="#777" stroke-width="0.9"/>
<path d="M209.76 725.8L207.98 733.2M212 725.8L210.22 733.2M207.19 728.24L212.79 728.24M207.19 730.91L212.79 730.91" stroke="#1a1a1a" stroke-width="1.0" fill="none"/>
<rect x="214.42" y="743.50" width="8.86" height="5.30" fill="#050505" stroke="#000" stroke-width="0.8"/>
<line x1="218.85" y1="741.5" x2="218.85" y2="743.5" stroke="#777" stroke-width="0.9"/>
<line x1="217.35" y1="741.5" x2="220.35" y2="741.5" stroke="#777" stroke-width="0.9"/>
<path d="M218.62 732.5L216.84 739.9M220.86 732.5L219.08 739.9M216.05 734.94L221.65 734.94M216.05 737.61L221.65 737.61" stroke="#1a1a1a" stroke-width="1.0" fill="none"/>
<rect x="223.28" y="703.00" width="8.86" height="45.80" fill="#921f1d" stroke="#333" stroke-width="0.8"/>
<line x1="227.71" y1="675.6" x2="227.71" y2="703" stroke="#777" stroke-width="0.9"/>
<line x1="226.21" y1="675.6" x2="229.21" y2="675.6" stroke="#777" stroke-width="0.9"/>
<path d="M227.48 667.1L225.7 674.5M229.72 667.1L227.94 674.5M224.91 669.54L230.51 669.54M224.91 672.21L230.51 672.21" stroke="#1a1a1a" stroke-width="1.0" fill="none"/>
<rect x="232.14" y="740.00" width="8.86" height="8.80" fill="#4d8b2c" stroke="#333" stroke-width="0.8"/>
<line x1="236.57" y1="739" x2="236.57" y2="740" stroke="#777" stroke-width="0.9"/>
<line x1="235.07" y1="739" x2="238.07" y2="739" stroke="#777" stroke-width="0.9"/>
<rect x="241.00" y="694.40" width="8.86" height="54.40" fill="#3a0c63" stroke="#333" stroke-width="0.8"/>
<line x1="245.43" y1="668.5" x2="245.43" y2="694.4" stroke="#777" stroke-width="0.9"/>
<line x1="243.93" y1="668.5" x2="246.93" y2="668.5" stroke="#777" stroke-width="0.9"/>
<path d="M245.2 660.9L243.42 668.3M247.44 660.9L245.66 668.3M242.63 663.34L248.23 663.34M242.63 666.01L248.23 666.01" stroke="#1a1a1a" stroke-width="1.0" fill="none"/>
<rect x="262.50" y="745.00" width="8.86" height="3.80" fill="#ffffff" stroke="#333" stroke-width="0.8"/>
<line x1="266.93" y1="744" x2="266.93" y2="745" stroke="#777" stroke-width="0.9"/>
<line x1="265.43" y1="744" x2="268.43" y2="744" stroke="#777" stroke-width="0.9"/>
<path d="M266.7 735.8L264.92 743.2M268.94 735.8L267.16 743.2M264.13 738.24L269.73 738.24M264.13 740.91L269.73 740.91" stroke="#1a1a1a" stroke-width="1.0" fill="none"/>
<rect x="271.36" y="738.00" width="8.86" height="10.80" fill="#d3cdc6" stroke="#333" stroke-width="0.8"/>
<line x1="275.79" y1="733" x2="275.79" y2="742" stroke="#777" stroke-width="0.9"/>
<line x1="274.29" y1="733" x2="277.29" y2="733" stroke="#777" stroke-width="0.9"/>
<line x1="274.29" y1="742" x2="277.29" y2="742" stroke="#777" stroke-width="0.9"/>
<path d="M275.56 724.3L273.78 731.7M277.8 724.3L276.02 731.7M272.99 726.74L278.59 726.74M272.99 729.41L278.59 729.41" stroke="#1a1a1a" stroke-width="1.0" fill="none"/>
<rect x="280.22" y="741.25" width="8.86" height="7.55" fill="#050505" stroke="#000" stroke-width="0.8"/>
<line x1="284.65" y1="740" x2="284.65" y2="741.25" stroke="#777" stroke-width="0.9"/>
<line x1="283.15" y1="740" x2="286.15" y2="740" stroke="#777" stroke-width="0.9"/>
<path d="M284.42 730.05L282.64 737.45M286.66 730.05L284.88 737.45M281.85 732.49L287.45 732.49M281.85 735.16L287.45 735.16" stroke="#1a1a1a" stroke-width="1.0" fill="none"/>
<rect x="289.08" y="682.50" width="8.86" height="66.30" fill="#921f1d" stroke="#333" stroke-width="0.8"/>
<line x1="293.51" y1="642" x2="293.51" y2="682.5" stroke="#777" stroke-width="0.9"/>
<line x1="292.01" y1="642" x2="295.01" y2="642" stroke="#777" stroke-width="0.9"/>
<path d="M293.28 632.3L291.5 639.7M295.52 632.3L293.74 639.7M290.71 634.74L296.31 634.74M290.71 637.41L296.31 637.41" stroke="#1a1a1a" stroke-width="1.0" fill="none"/>
<rect x="297.94" y="740.00" width="8.86" height="8.80" fill="#4d8b2c" stroke="#333" stroke-width="0.8"/>
<line x1="302.37" y1="739" x2="302.37" y2="740" stroke="#777" stroke-width="0.9"/>
<line x1="300.87" y1="739" x2="303.87" y2="739" stroke="#777" stroke-width="0.9"/>
<rect x="306.80" y="693.25" width="8.86" height="55.55" fill="#3a0c63" stroke="#333" stroke-width="0.8"/>
<line x1="311.23" y1="668.75" x2="311.23" y2="693.25" stroke="#777" stroke-width="0.9"/>
<line x1="309.73" y1="668.75" x2="312.73" y2="668.75" stroke="#777" stroke-width="0.9"/>
<path d="M311 660.05L309.22 667.45M313.24 660.05L311.46 667.45M308.43 662.49L314.03 662.49M308.43 665.16L314.03 665.16" stroke="#1a1a1a" stroke-width="1.0" fill="none"/>
<rect x="329.50" y="745.50" width="8.86" height="3.30" fill="#ffffff" stroke="#333" stroke-width="0.8"/>
<line x1="333.93" y1="744" x2="333.93" y2="745.5" stroke="#777" stroke-width="0.9"/>
<line x1="332.43" y1="744" x2="335.43" y2="744" stroke="#777" stroke-width="0.9"/>
<path d="M333.7 736.3L331.92 743.7M335.94 736.3L334.16 743.7M331.13 738.74L336.73 738.74M331.13 741.41L336.73 741.41" stroke="#1a1a1a" stroke-width="1.0" fill="none"/>
<rect x="338.36" y="735.75" width="8.86" height="13.05" fill="#d3cdc6" stroke="#333" stroke-width="0.8"/>
<line x1="342.79" y1="733" x2="342.79" y2="740" stroke="#777" stroke-width="0.9"/>
<line x1="341.29" y1="733" x2="344.29" y2="733" stroke="#777" stroke-width="0.9"/>
<line x1="341.29" y1="740" x2="344.29" y2="740" stroke="#777" stroke-width="0.9"/>
<path d="M342.56 723.3L340.78 730.7M344.8 723.3L343.02 730.7M339.99 725.74L345.59 725.74M339.99 728.41L345.59 728.41" stroke="#1a1a1a" stroke-width="1.0" fill="none"/>
<rect x="347.22" y="739.50" width="8.86" height="9.30" fill="#050505" stroke="#000" stroke-width="0.8"/>
<line x1="351.65" y1="738.5" x2="351.65" y2="739.5" stroke="#777" stroke-width="0.9"/>
<line x1="350.15" y1="738.5" x2="353.15" y2="738.5" stroke="#777" stroke-width="0.9"/>
<path d="M351.42 730.8L349.64 738.2M353.66 730.8L351.88 738.2M348.85 733.24L354.45 733.24M348.85 735.91L354.45 735.91" stroke="#1a1a1a" stroke-width="1.0" fill="none"/>
<rect x="356.08" y="680.00" width="8.86" height="68.80" fill="#921f1d" stroke="#333" stroke-width="0.8"/>
<line x1="360.51" y1="678" x2="360.51" y2="680" stroke="#777" stroke-width="0.9"/>
<line x1="359.01" y1="678" x2="362.01" y2="678" stroke="#777" stroke-width="0.9"/>
<path d="M360.28 668.8L358.5 676.2M362.52 668.8L360.74 676.2M357.71 671.24L363.31 671.24M357.71 673.91L363.31 673.91" stroke="#1a1a1a" stroke-width="1.0" fill="none"/>
<rect x="364.94" y="739.50" width="8.86" height="9.30" fill="#4d8b2c" stroke="#333" stroke-width="0.8"/>
<line x1="369.37" y1="738.5" x2="369.37" y2="739.5" stroke="#777" stroke-width="0.9"/>
<line x1="367.87" y1="738.5" x2="370.87" y2="738.5" stroke="#777" stroke-width="0.9"/>
<rect x="373.80" y="703.75" width="8.86" height="45.05" fill="#3a0c63" stroke="#333" stroke-width="0.8"/>
<line x1="378.23" y1="694.25" x2="378.23" y2="703.75" stroke="#777" stroke-width="0.9"/>
<line x1="376.73" y1="694.25" x2="379.73" y2="694.25" stroke="#777" stroke-width="0.9"/>
<path d="M378 684.3L376.22 691.7M380.24 684.3L378.46 691.7M375.43 686.74L381.03 686.74M375.43 689.41L381.03 689.41" stroke="#1a1a1a" stroke-width="1.0" fill="none"/>
<rect x="395.40" y="744.40" width="8.86" height="4.40" fill="#ffffff" stroke="#333" stroke-width="0.8"/>
<line x1="399.83" y1="743" x2="399.83" y2="744.4" stroke="#777" stroke-width="0.9"/>
<line x1="398.33" y1="743" x2="401.33" y2="743" stroke="#777" stroke-width="0.9"/>
<path d="M399.83 739.3L399.83 736.3M399.83 739.3L402.68 738.37M399.83 739.3L401.59 741.73M399.83 739.3L398.07 741.73M399.83 739.3L396.98 738.37" stroke="#111" stroke-width="1.5" fill="none"/>
<rect x="404.26" y="733.80" width="8.86" height="15.00" fill="#d3cdc6" stroke="#333" stroke-width="0.8"/>
<line x1="408.69" y1="728.8" x2="408.69" y2="738" stroke="#777" stroke-width="0.9"/>
<line x1="407.19" y1="728.8" x2="410.19" y2="728.8" stroke="#777" stroke-width="0.9"/>
<line x1="407.19" y1="738" x2="410.19" y2="738" stroke="#777" stroke-width="0.9"/>
<path d="M408.46 719.3L406.68 726.7M410.7 719.3L408.92 726.7M405.89 721.74L411.49 721.74M405.89 724.41L411.49 724.41" stroke="#1a1a1a" stroke-width="1.0" fill="none"/>
<rect x="413.12" y="739.60" width="8.86" height="9.20" fill="#050505" stroke="#000" stroke-width="0.8"/>
<line x1="417.55" y1="738.5" x2="417.55" y2="739.6" stroke="#777" stroke-width="0.9"/>
<line x1="416.05" y1="738.5" x2="419.05" y2="738.5" stroke="#777" stroke-width="0.9"/>
<path d="M417.32 730.5L415.54 737.9M419.56 730.5L417.78 737.9M414.75 732.94L420.35 732.94M414.75 735.61L420.35 735.61" stroke="#1a1a1a" stroke-width="1.0" fill="none"/>
<rect x="421.98" y="691.50" width="8.86" height="57.30" fill="#921f1d" stroke="#333" stroke-width="0.8"/>
<line x1="426.41" y1="680.4" x2="426.41" y2="691.5" stroke="#777" stroke-width="0.9"/>
<line x1="424.91" y1="680.4" x2="427.91" y2="680.4" stroke="#777" stroke-width="0.9"/>
<path d="M426.18 672.5L424.4 679.9M428.42 672.5L426.64 679.9M423.61 674.94L429.21 674.94M423.61 677.61L429.21 677.61" stroke="#1a1a1a" stroke-width="1.0" fill="none"/>
<rect x="430.84" y="739.60" width="8.86" height="9.20" fill="#4d8b2c" stroke="#333" stroke-width="0.8"/>
<line x1="435.27" y1="738.5" x2="435.27" y2="739.6" stroke="#777" stroke-width="0.9"/>
<line x1="433.77" y1="738.5" x2="436.77" y2="738.5" stroke="#777" stroke-width="0.9"/>
<rect x="439.70" y="694.20" width="8.86" height="54.60" fill="#3a0c63" stroke="#333" stroke-width="0.8"/>
<line x1="444.13" y1="690.4" x2="444.13" y2="694.2" stroke="#777" stroke-width="0.9"/>
<line x1="442.63" y1="690.4" x2="445.63" y2="690.4" stroke="#777" stroke-width="0.9"/>
<path d="M443.9 681.3L442.12 688.7M446.14 681.3L444.36 688.7M441.33 683.74L446.93 683.74M441.33 686.41L446.93 686.41" stroke="#1a1a1a" stroke-width="1.0" fill="none"/>
<text x="71" y="763.2" font-size="11.7" font-weight="bold" font-style="italic" fill="#111">Glb1<tspan font-size="7" dy="-3.6" dx="2.6">+/+</tspan></text>
<text x="142.5" y="763.2" font-size="11.7" font-weight="bold" font-style="italic" fill="#111">Glb1<tspan font-size="7" dy="-3.6" dx="2.6">-/-</tspan></text>
<text x="227.7" y="765.1" font-size="11.8" font-weight="bold" font-style="normal" text-anchor="middle" fill="#111">1</text>
<text x="291.5" y="765.1" font-size="11.8" font-weight="bold" font-style="normal" text-anchor="middle" fill="#111">3</text>
<text x="362" y="765.1" font-size="11.8" font-weight="bold" font-style="normal" text-anchor="middle" fill="#111">6</text>
<text x="427.5" y="765.1" font-size="11.8" font-weight="bold" font-style="normal" text-anchor="middle" fill="#111">9</text>
<line x1="193.4" y1="769.6" x2="458.8" y2="769.6" stroke="#111" stroke-width="1.6"/>
<text x="205.1" y="783.6" font-size="11.7" font-weight="bold" font-style="normal" text-anchor="start" fill="#111">Time since secondary BMT (months)</text>
<text x="1.9" y="806.7" font-size="28.8" font-weight="bold" font-style="normal" text-anchor="start" fill="#050505">E</text>
<line x1="55.8" y1="789.5" x2="55.8" y2="1013.9" stroke="#1a1a1a" stroke-width="1.5"/>
<line x1="51.6" y1="1013.9" x2="55.8" y2="1013.9" stroke="#1a1a1a" stroke-width="1.2"/>
<text x="49.7" y="1018.22" font-size="12" font-weight="normal" font-style="normal" text-anchor="end" fill="#262626" stroke="#262626" stroke-width="0.22">0</text>
<line x1="51.6" y1="967.8" x2="55.8" y2="967.8" stroke="#1a1a1a" stroke-width="1.2"/>
<text x="48.4" y="972.12" font-size="12" font-weight="normal" font-style="normal" text-anchor="end" fill="#262626" stroke="#262626" stroke-width="0.22">10</text>
<line x1="51.6" y1="916.8" x2="55.8" y2="916.8" stroke="#1a1a1a" stroke-width="1.2"/>
<text x="48.4" y="921.12" font-size="12" font-weight="normal" font-style="normal" text-anchor="end" fill="#262626" stroke="#262626" stroke-width="0.22">20</text>
<line x1="51.6" y1="867.4" x2="55.8" y2="867.4" stroke="#1a1a1a" stroke-width="1.2"/>
<text x="48.4" y="871.72" font-size="12" font-weight="normal" font-style="normal" text-anchor="end" fill="#262626" stroke="#262626" stroke-width="0.22">30</text>
<line x1="51.6" y1="816.5" x2="55.8" y2="816.5" stroke="#1a1a1a" stroke-width="1.2"/>
<text x="48.4" y="820.82" font-size="12" font-weight="normal" font-style="normal" text-anchor="end" fill="#262626" stroke="#262626" stroke-width="0.22">40</text>
<line x1="53.8" y1="989.3" x2="55.8" y2="989.3" stroke="#555" stroke-width="0.8"/>
<line x1="53.8" y1="939.5" x2="55.8" y2="939.5" stroke="#555" stroke-width="0.8"/>
<line x1="53.8" y1="889.3" x2="55.8" y2="889.3" stroke="#555" stroke-width="0.8"/>
<line x1="53.8" y1="841.5" x2="55.8" y2="841.5" stroke="#555" stroke-width="0.8"/>
<line x1="53.8" y1="792" x2="55.8" y2="792" stroke="#555" stroke-width="0.8"/>
<line x1="55.3" y1="1014" x2="455.8" y2="1014" stroke="#1a1a1a" stroke-width="1.4"/>
<text x="13.1" y="916.8" font-size="11.6" text-anchor="middle" fill="#111" transform="rotate(-90 13.1 916.8)"><tspan font-weight="normal">&#946;</tspan><tspan font-weight="bold">-gal activity ( nmol/h/mg )</tspan></text>
<rect x="140.60" y="824.75" width="13.20" height="12.50" fill="#ffffff" stroke="#333" stroke-width="1.2"/>
<text x="162" y="835.55" font-size="12.1" font-weight="normal" font-style="normal" text-anchor="start" fill="#1a1a1a" stroke="#262626" stroke-width="0.22">HMF</text>
<rect x="140.60" y="848.55" width="13.20" height="12.50" fill="#d3cdc6" stroke="#333" stroke-width="1.2"/>
<text x="162" y="859.35" font-size="12.1" font-weight="normal" font-style="normal" text-anchor="start" fill="#1a1a1a" stroke="#262626" stroke-width="0.22">BS</text>
<rect x="140.60" y="872.35" width="13.20" height="12.50" fill="#050505" stroke="#333" stroke-width="1.2"/>
<text x="162" y="883.15" font-size="12.1" font-weight="normal" font-style="normal" text-anchor="start" fill="#1a1a1a" stroke="#262626" stroke-width="0.22">CB</text>
<rect x="140.60" y="896.15" width="13.20" height="12.50" fill="#921f1d" stroke="#333" stroke-width="1.2"/>
<text x="162" y="906.95" font-size="12.1" font-weight="normal" font-style="normal" text-anchor="start" fill="#1a1a1a" stroke="#262626" stroke-width="0.22">Spinal cord</text>
<rect x="61.20" y="819.25" width="8.23" height="194.75" fill="#ffffff" stroke="#333" stroke-width="0.8"/>
<line x1="65.31" y1="809.5" x2="65.31" y2="830" stroke="#444" stroke-width="0.9"/>
<line x1="63.56" y1="809.5" x2="67.06" y2="809.5" stroke="#444" stroke-width="0.9"/>
<line x1="63.56" y1="830" x2="67.06" y2="830" stroke="#444" stroke-width="0.9"/>
<path d="M65.31 804L65.31 801M65.31 804L68.17 803.07M65.31 804L67.08 806.43M65.31 804L63.55 806.43M65.31 804L62.46 803.07" stroke="#111" stroke-width="1.5" fill="none"/>
<rect x="69.43" y="914.20" width="8.23" height="99.80" fill="#d3cdc6" stroke="#333" stroke-width="0.8"/>
<line x1="73.55" y1="909.2" x2="73.55" y2="919.4" stroke="#444" stroke-width="0.9"/>
<line x1="71.8" y1="909.2" x2="75.3" y2="909.2" stroke="#444" stroke-width="0.9"/>
<line x1="71.8" y1="919.4" x2="75.3" y2="919.4" stroke="#444" stroke-width="0.9"/>
<path d="M73.55 904.9L73.55 901.9M73.55 904.9L76.4 903.97M73.55 904.9L75.31 907.33M73.55 904.9L71.78 907.33M73.55 904.9L70.69 903.97" stroke="#111" stroke-width="1.5" fill="none"/>
<rect x="77.66" y="938.00" width="8.23" height="76.00" fill="#050505" stroke="#000" stroke-width="0.8"/>
<line x1="81.77" y1="925.8" x2="81.77" y2="938" stroke="#444" stroke-width="0.9"/>
<line x1="80.02" y1="925.8" x2="83.52" y2="925.8" stroke="#444" stroke-width="0.9"/>
<path d="M81.77 921.6L81.77 918.6M81.77 921.6L84.63 920.67M81.77 921.6L83.54 924.03M81.77 921.6L80.01 924.03M81.77 921.6L78.92 920.67" stroke="#111" stroke-width="1.5" fill="none"/>
<rect x="85.89" y="912.70" width="8.23" height="101.30" fill="#921f1d" stroke="#333" stroke-width="0.8"/>
<line x1="90" y1="904" x2="90" y2="912.7" stroke="#444" stroke-width="0.9"/>
<line x1="88.25" y1="904" x2="91.75" y2="904" stroke="#444" stroke-width="0.9"/>
<path d="M90 899.5L90 896.5M90 899.5L92.86 898.57M90 899.5L91.77 901.93M90 899.5L88.24 901.93M90 899.5L87.15 898.57" stroke="#111" stroke-width="1.5" fill="none"/>
<rect x="106.30" y="997.00" width="8.23" height="17.00" fill="#ffffff" stroke="#333" stroke-width="0.8"/>
<line x1="110.41" y1="993" x2="110.41" y2="1001.2" stroke="#444" stroke-width="0.9"/>
<line x1="108.66" y1="993" x2="112.16" y2="993" stroke="#444" stroke-width="0.9"/>
<line x1="108.66" y1="1001.2" x2="112.16" y2="1001.2" stroke="#444" stroke-width="0.9"/>
<rect x="114.53" y="996.70" width="8.23" height="17.30" fill="#d3cdc6" stroke="#333" stroke-width="0.8"/>
<line x1="118.64" y1="994" x2="118.64" y2="999.5" stroke="#444" stroke-width="0.9"/>
<line x1="116.89" y1="994" x2="120.39" y2="994" stroke="#444" stroke-width="0.9"/>
<line x1="116.89" y1="999.5" x2="120.39" y2="999.5" stroke="#444" stroke-width="0.9"/>
<rect x="122.76" y="1000.80" width="8.23" height="13.20" fill="#050505" stroke="#000" stroke-width="0.8"/>
<rect x="130.99" y="1007.50" width="8.23" height="6.50" fill="#921f1d" stroke="#333" stroke-width="0.8"/>
<rect x="150.40" y="992.30" width="8.23" height="21.70" fill="#ffffff" stroke="#333" stroke-width="0.8"/>
<line x1="154.52" y1="991.2" x2="154.52" y2="994.6" stroke="#444" stroke-width="0.9"/>
<line x1="152.77" y1="991.2" x2="156.27" y2="991.2" stroke="#444" stroke-width="0.9"/>
<line x1="152.77" y1="994.6" x2="156.27" y2="994.6" stroke="#444" stroke-width="0.9"/>
<rect x="158.63" y="981.20" width="8.23" height="32.80" fill="#d3cdc6" stroke="#333" stroke-width="0.8"/>
<line x1="162.75" y1="978.5" x2="162.75" y2="983" stroke="#444" stroke-width="0.9"/>
<line x1="161" y1="978.5" x2="164.5" y2="978.5" stroke="#444" stroke-width="0.9"/>
<line x1="161" y1="983" x2="164.5" y2="983" stroke="#444" stroke-width="0.9"/>
<path d="M162.75 974.1L162.75 971.1M162.75 974.1L165.6 973.17M162.75 974.1L164.51 976.53M162.75 974.1L160.98 976.53M162.75 974.1L159.89 973.17" stroke="#111" stroke-width="1.5" fill="none"/>
<rect x="166.86" y="986.90" width="8.23" height="27.10" fill="#050505" stroke="#000" stroke-width="0.8"/>
<path d="M170.66 975.15L169.05 981.85M172.9 975.15L171.29 981.85M168.18 977.36L173.78 977.36M168.18 979.77L173.78 979.77" stroke="#1a1a1a" stroke-width="1.2" fill="none"/>
<rect x="175.09" y="981.50" width="8.23" height="32.50" fill="#921f1d" stroke="#333" stroke-width="0.8"/>
<line x1="179.21" y1="978.2" x2="179.21" y2="981.5" stroke="#444" stroke-width="0.9"/>
<line x1="177.46" y1="978.2" x2="180.96" y2="978.2" stroke="#444" stroke-width="0.9"/>
<path d="M179.21 973.7L179.21 970.7M179.21 973.7L182.06 972.77M179.21 973.7L180.97 976.13M179.21 973.7L177.44 976.13M179.21 973.7L176.35 972.77" stroke="#111" stroke-width="1.5" fill="none"/>
<rect x="194.50" y="982.30" width="8.23" height="31.70" fill="#ffffff" stroke="#333" stroke-width="0.8"/>
<line x1="198.62" y1="980.8" x2="198.62" y2="984.6" stroke="#444" stroke-width="0.9"/>
<line x1="196.87" y1="980.8" x2="200.37" y2="980.8" stroke="#444" stroke-width="0.9"/>
<line x1="196.87" y1="984.6" x2="200.37" y2="984.6" stroke="#444" stroke-width="0.9"/>
<path d="M198.62 974.6L198.62 971.6M198.62 974.6L201.47 973.67M198.62 974.6L200.38 977.03M198.62 974.6L196.85 977.03M198.62 974.6L195.76 973.67" stroke="#111" stroke-width="1.5" fill="none"/>
<rect x="202.73" y="976.50" width="8.23" height="37.50" fill="#d3cdc6" stroke="#333" stroke-width="0.8"/>
<line x1="206.84" y1="973.8" x2="206.84" y2="979" stroke="#444" stroke-width="0.9"/>
<line x1="205.09" y1="973.8" x2="208.59" y2="973.8" stroke="#444" stroke-width="0.9"/>
<line x1="205.09" y1="979" x2="208.59" y2="979" stroke="#444" stroke-width="0.9"/>
<path d="M206.84 969.5L206.84 966.5M206.84 969.5L209.7 968.57M206.84 969.5L208.61 971.93M206.84 969.5L205.08 971.93M206.84 969.5L203.99 968.57" stroke="#111" stroke-width="1.5" fill="none"/>
<rect x="210.96" y="960.30" width="8.23" height="53.70" fill="#050505" stroke="#000" stroke-width="0.8"/>
<line x1="215.08" y1="957" x2="215.08" y2="960.3" stroke="#444" stroke-width="0.9"/>
<line x1="213.33" y1="957" x2="216.83" y2="957" stroke="#444" stroke-width="0.9"/>
<path d="M215.08 952.1L215.08 949.1M215.08 952.1L217.93 951.17M215.08 952.1L216.84 954.53M215.08 952.1L213.31 954.53M215.08 952.1L212.22 951.17" stroke="#111" stroke-width="1.5" fill="none"/>
<rect x="219.19" y="976.20" width="8.23" height="37.80" fill="#921f1d" stroke="#333" stroke-width="0.8"/>
<line x1="223.31" y1="973" x2="223.31" y2="976.2" stroke="#444" stroke-width="0.9"/>
<line x1="221.56" y1="973" x2="225.06" y2="973" stroke="#444" stroke-width="0.9"/>
<path d="M223.31 968.8L223.31 965.8M223.31 968.8L226.16 967.87M223.31 968.8L225.07 971.23M223.31 968.8L221.54 971.23M223.31 968.8L220.45 967.87" stroke="#111" stroke-width="1.5" fill="none"/>
<rect x="239.50" y="983.10" width="8.23" height="30.90" fill="#ffffff" stroke="#333" stroke-width="0.8"/>
<line x1="243.62" y1="981" x2="243.62" y2="986" stroke="#444" stroke-width="0.9"/>
<line x1="241.87" y1="981" x2="245.37" y2="981" stroke="#444" stroke-width="0.9"/>
<line x1="241.87" y1="986" x2="245.37" y2="986" stroke="#444" stroke-width="0.9"/>
<path d="M243.62 976.5L243.62 973.5M243.62 976.5L246.47 975.57M243.62 976.5L245.38 978.93M243.62 976.5L241.85 978.93M243.62 976.5L240.76 975.57" stroke="#111" stroke-width="1.5" fill="none"/>
<rect x="247.73" y="973.50" width="8.23" height="40.50" fill="#d3cdc6" stroke="#333" stroke-width="0.8"/>
<line x1="251.84" y1="970.3" x2="251.84" y2="977" stroke="#444" stroke-width="0.9"/>
<line x1="250.09" y1="970.3" x2="253.59" y2="970.3" stroke="#444" stroke-width="0.9"/>
<line x1="250.09" y1="977" x2="253.59" y2="977" stroke="#444" stroke-width="0.9"/>
<path d="M251.84 965.7L251.84 962.7M251.84 965.7L254.7 964.77M251.84 965.7L253.61 968.13M251.84 965.7L250.08 968.13M251.84 965.7L248.99 964.77" stroke="#111" stroke-width="1.5" fill="none"/>
<rect x="255.96" y="963.10" width="8.23" height="50.90" fill="#050505" stroke="#000" stroke-width="0.8"/>
<line x1="260.07" y1="961" x2="260.07" y2="963.1" stroke="#444" stroke-width="0.9"/>
<line x1="258.32" y1="961" x2="261.82" y2="961" stroke="#444" stroke-width="0.9"/>
<path d="M260.07 958L260.07 955M260.07 958L262.93 957.07M260.07 958L261.84 960.43M260.07 958L258.31 960.43M260.07 958L257.22 957.07" stroke="#111" stroke-width="1.5" fill="none"/>
<rect x="264.19" y="968.20" width="8.23" height="45.80" fill="#921f1d" stroke="#333" stroke-width="0.8"/>
<line x1="268.31" y1="963.4" x2="268.31" y2="968.2" stroke="#444" stroke-width="0.9"/>
<line x1="266.56" y1="963.4" x2="270.06" y2="963.4" stroke="#444" stroke-width="0.9"/>
<path d="M268.31 958.8L268.31 955.8M268.31 958.8L271.16 957.87M268.31 958.8L270.07 961.23M268.31 958.8L266.54 961.23M268.31 958.8L265.45 957.87" stroke="#111" stroke-width="1.5" fill="none"/>
<rect x="284.20" y="985.20" width="8.23" height="28.80" fill="#ffffff" stroke="#333" stroke-width="0.8"/>
<line x1="288.31" y1="982.3" x2="288.31" y2="989" stroke="#444" stroke-width="0.9"/>
<line x1="286.56" y1="982.3" x2="290.06" y2="982.3" stroke="#444" stroke-width="0.9"/>
<line x1="286.56" y1="989" x2="290.06" y2="989" stroke="#444" stroke-width="0.9"/>
<path d="M288.31 977.8L288.31 974.8M288.31 977.8L291.17 976.87M288.31 977.8L290.08 980.23M288.31 977.8L286.55 980.23M288.31 977.8L285.46 976.87" stroke="#111" stroke-width="1.5" fill="none"/>
<rect x="292.43" y="971.70" width="8.23" height="42.30" fill="#d3cdc6" stroke="#333" stroke-width="0.8"/>
<line x1="296.55" y1="969.2" x2="296.55" y2="975.6" stroke="#444" stroke-width="0.9"/>
<line x1="294.8" y1="969.2" x2="298.3" y2="969.2" stroke="#444" stroke-width="0.9"/>
<line x1="294.8" y1="975.6" x2="298.3" y2="975.6" stroke="#444" stroke-width="0.9"/>
<path d="M296.55 964.9L296.55 961.9M296.55 964.9L299.4 963.97M296.55 964.9L298.31 967.33M296.55 964.9L294.78 967.33M296.55 964.9L293.69 963.97" stroke="#111" stroke-width="1.5" fill="none"/>
<rect x="300.66" y="966.30" width="8.23" height="47.70" fill="#050505" stroke="#000" stroke-width="0.8"/>
<line x1="304.77" y1="961.5" x2="304.77" y2="966.3" stroke="#444" stroke-width="0.9"/>
<line x1="303.02" y1="961.5" x2="306.52" y2="961.5" stroke="#444" stroke-width="0.9"/>
<path d="M304.77 957.6L304.77 954.6M304.77 957.6L307.63 956.67M304.77 957.6L306.54 960.03M304.77 957.6L303.01 960.03M304.77 957.6L301.92 956.67" stroke="#111" stroke-width="1.5" fill="none"/>
<rect x="308.89" y="975.60" width="8.23" height="38.40" fill="#921f1d" stroke="#333" stroke-width="0.8"/>
<line x1="313" y1="973" x2="313" y2="975.6" stroke="#444" stroke-width="0.9"/>
<line x1="311.25" y1="973" x2="314.75" y2="973" stroke="#444" stroke-width="0.9"/>
<path d="M313 970.1L313 967.1M313 970.1L315.86 969.17M313 970.1L314.77 972.53M313 970.1L311.24 972.53M313 970.1L310.15 969.17" stroke="#111" stroke-width="1.5" fill="none"/>
<rect x="329.00" y="994.20" width="8.23" height="19.80" fill="#ffffff" stroke="#333" stroke-width="0.8"/>
<rect x="337.23" y="989.60" width="8.23" height="24.40" fill="#d3cdc6" stroke="#333" stroke-width="0.8"/>
<path d="M341.03 981.25L339.42 987.95M343.27 981.25L341.66 987.95M338.55 983.46L344.15 983.46M338.55 985.87L344.15 985.87" stroke="#1a1a1a" stroke-width="1.2" fill="none"/>
<rect x="345.46" y="976.00" width="8.23" height="38.00" fill="#050505" stroke="#000" stroke-width="0.8"/>
<line x1="349.57" y1="973.7" x2="349.57" y2="976" stroke="#444" stroke-width="0.9"/>
<line x1="347.82" y1="973.7" x2="351.32" y2="973.7" stroke="#444" stroke-width="0.9"/>
<path d="M349.57 969.5L349.57 966.5M349.57 969.5L352.43 968.57M349.57 969.5L351.34 971.93M349.57 969.5L347.81 971.93M349.57 969.5L346.72 968.57" stroke="#111" stroke-width="1.5" fill="none"/>
<rect x="353.69" y="978.10" width="8.23" height="35.90" fill="#921f1d" stroke="#333" stroke-width="0.8"/>
<line x1="357.81" y1="974.6" x2="357.81" y2="978.1" stroke="#444" stroke-width="0.9"/>
<line x1="356.06" y1="974.6" x2="359.56" y2="974.6" stroke="#444" stroke-width="0.9"/>
<path d="M357.81 969.5L357.81 966.5M357.81 969.5L360.66 968.57M357.81 969.5L359.57 971.93M357.81 969.5L356.04 971.93M357.81 969.5L354.95 968.57" stroke="#111" stroke-width="1.5" fill="none"/>
<rect x="373.40" y="994.20" width="8.23" height="19.80" fill="#ffffff" stroke="#333" stroke-width="0.8"/>
<line x1="377.51" y1="990.3" x2="377.51" y2="997.7" stroke="#444" stroke-width="0.9"/>
<line x1="375.76" y1="990.3" x2="379.26" y2="990.3" stroke="#444" stroke-width="0.9"/>
<line x1="375.76" y1="997.7" x2="379.26" y2="997.7" stroke="#444" stroke-width="0.9"/>
<rect x="381.63" y="991.20" width="8.23" height="22.80" fill="#d3cdc6" stroke="#333" stroke-width="0.8"/>
<path d="M385.43 982.35L383.82 989.05M387.67 982.35L386.06 989.05M382.94 984.56L388.55 984.56M382.94 986.97L388.55 986.97" stroke="#1a1a1a" stroke-width="1.2" fill="none"/>
<rect x="389.86" y="979.20" width="8.23" height="34.80" fill="#050505" stroke="#000" stroke-width="0.8"/>
<path d="M393.97 974.9L393.97 971.9M393.97 974.9L396.83 973.97M393.97 974.9L395.74 977.33M393.97 974.9L392.21 977.33M393.97 974.9L391.12 973.97" stroke="#111" stroke-width="1.5" fill="none"/>
<rect x="398.09" y="982.20" width="8.23" height="31.80" fill="#921f1d" stroke="#333" stroke-width="0.8"/>
<line x1="402.2" y1="978.8" x2="402.2" y2="982.2" stroke="#444" stroke-width="0.9"/>
<line x1="400.45" y1="978.8" x2="403.95" y2="978.8" stroke="#444" stroke-width="0.9"/>
<path d="M402.2 974.5L402.2 971.5M402.2 974.5L405.06 973.57M402.2 974.5L403.97 976.93M402.2 974.5L400.44 976.93M402.2 974.5L399.35 973.57" stroke="#111" stroke-width="1.5" fill="none"/>
<rect x="417.70" y="988.90" width="8.23" height="25.10" fill="#ffffff" stroke="#333" stroke-width="0.8"/>
<line x1="421.81" y1="986.2" x2="421.81" y2="992.6" stroke="#444" stroke-width="0.9"/>
<line x1="420.06" y1="986.2" x2="423.56" y2="986.2" stroke="#444" stroke-width="0.9"/>
<line x1="420.06" y1="992.6" x2="423.56" y2="992.6" stroke="#444" stroke-width="0.9"/>
<rect x="425.93" y="977.60" width="8.23" height="36.40" fill="#d3cdc6" stroke="#333" stroke-width="0.8"/>
<line x1="430.05" y1="974.2" x2="430.05" y2="981" stroke="#444" stroke-width="0.9"/>
<line x1="428.3" y1="974.2" x2="431.8" y2="974.2" stroke="#444" stroke-width="0.9"/>
<line x1="428.3" y1="981" x2="431.8" y2="981" stroke="#444" stroke-width="0.9"/>
<path d="M429.73 965.45L428.12 972.15M431.97 965.45L430.36 972.15M427.25 967.66L432.85 967.66M427.25 970.07L432.85 970.07" stroke="#1a1a1a" stroke-width="1.2" fill="none"/>
<rect x="434.16" y="970.00" width="8.23" height="44.00" fill="#050505" stroke="#000" stroke-width="0.8"/>
<path d="M438.27 963.4L438.27 960.4M438.27 963.4L441.13 962.47M438.27 963.4L440.04 965.83M438.27 963.4L436.51 965.83M438.27 963.4L435.42 962.47" stroke="#111" stroke-width="1.5" fill="none"/>
<rect x="442.39" y="966.50" width="8.23" height="47.50" fill="#921f1d" stroke="#333" stroke-width="0.8"/>
<line x1="446.5" y1="963.1" x2="446.5" y2="966.5" stroke="#444" stroke-width="0.9"/>
<line x1="444.75" y1="963.1" x2="448.25" y2="963.1" stroke="#444" stroke-width="0.9"/>
<path d="M446.5 958.3L446.5 955.3M446.5 958.3L449.36 957.37M446.5 958.3L448.27 960.73M446.5 958.3L444.74 960.73M446.5 958.3L443.65 957.37" stroke="#111" stroke-width="1.5" fill="none"/>
<text x="79" y="1028.4" font-size="11.8" font-weight="bold" font-style="normal" text-anchor="middle" fill="#111">wt</text>
<text x="125.7" y="1028.4" font-size="11.8" font-weight="bold" font-style="normal" text-anchor="middle" fill="#111">ko</text>
<text x="167.3" y="1028.3" font-size="11.8" font-weight="bold" font-style="normal" text-anchor="middle" fill="#111">1</text>
<text x="217.2" y="1028.3" font-size="11.8" font-weight="bold" font-style="normal" text-anchor="middle" fill="#111">3</text>
<text x="261.5" y="1028.3" font-size="11.8" font-weight="bold" font-style="normal" text-anchor="middle" fill="#111">6</text>
<text x="303.6" y="1028.3" font-size="11.8" font-weight="bold" font-style="normal" text-anchor="middle" fill="#111">1</text>
<text x="348.6" y="1028.3" font-size="11.8" font-weight="bold" font-style="normal" text-anchor="middle" fill="#111">3</text>
<text x="392.8" y="1028.3" font-size="11.8" font-weight="bold" font-style="normal" text-anchor="middle" fill="#111">6</text>
<text x="438.5" y="1028.3" font-size="11.8" font-weight="bold" font-style="normal" text-anchor="middle" fill="#111">9</text>
<line x1="156" y1="1031.6" x2="273" y2="1031.6" stroke="#111" stroke-width="1.6"/>
<line x1="284.3" y1="1031.4" x2="448.8" y2="1031.4" stroke="#111" stroke-width="1.6"/>
<text x="130.6" y="1045.7" font-size="11.7" font-weight="bold" font-style="normal" text-anchor="start" fill="#111">Time since primary BMT</text>
<text x="184.2" y="1061" font-size="11.7" font-weight="bold" font-style="normal" text-anchor="start" fill="#111">(months)</text>
<text x="303.1" y="1045.7" font-size="11.7" font-weight="bold" font-style="normal" text-anchor="start" fill="#111">Time since secondary BMT</text>
<text x="364.2" y="1061" font-size="11.7" font-weight="bold" font-style="normal" text-anchor="start" fill="#111">(months)</text>
</svg>
</body></html>
